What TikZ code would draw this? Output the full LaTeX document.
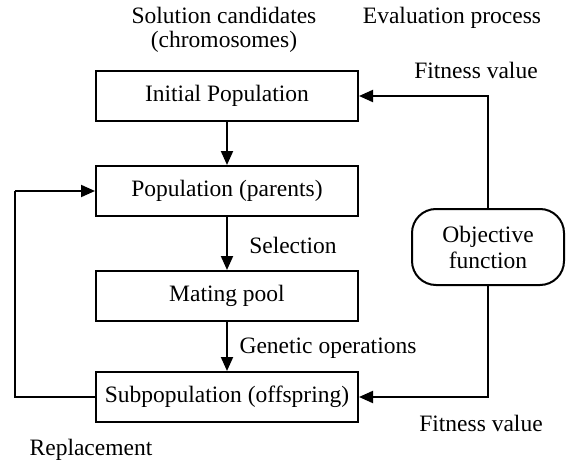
\documentclass[tikz,border=0pt]{standalone}
\usepackage{fontspec}
\setmainfont{Liberation Serif}
\usetikzlibrary{arrows.meta}
\begin{document}
\begin{tikzpicture}[x=1pt,y=-1pt,
  every node/.style={font=\fontsize{23.5}{26}\selectfont, inner sep=0pt},
  gabox/.style={draw, line width=2pt, minimum width=262pt, minimum height=50pt},
  objbox/.style={draw, line width=2pt, rounded corners=24pt, minimum width=152pt, minimum height=76pt, align=center},
  conn/.style={line width=2pt},
  arr/.style={line width=2pt, -{Triangle[length=14pt,width=12pt]}},
  lbl/.style={align=center}]
\useasboundingbox (0,0) rectangle (568,460);
\fill[white] (0,0) rectangle (568,460);

\node[gabox] (init) at (227,96) {Initial Population};
\node[gabox] (pop) at (227,191) {Population (parents)};
\node[gabox] (mate) at (227,296) {Mating pool};
\node[gabox] (sub) at (227,397) {Subpopulation (offspring)};
\node[objbox, font=\fontsize{23.5}{26}\selectfont] (obj) at (488,247) {Objective\\function};

\node[lbl, font=\fontsize{23.5}{24}\selectfont] (sol) at (224,30) {Solution candidates\\(chromosomes)};
\node (eval) at (452,18) {Evaluation process};
\node (fit1) at (476,70) {Fitness value};
\node (sel) at (293,245) {Selection};
\node (gen) at (328,348) {Genetic operations};
\node (fit2) at (481,423) {Fitness value};
\node (rep) at (91,450) {Replacement};

\draw[arr] (init) -- (pop);
\draw[arr] (pop) -- (mate);
\draw[arr] (mate) -- (sub);
\draw[arr] (obj.north) |- (init.east);
\draw[arr] (obj.south) |- (sub.east);
\coordinate (lb) at (15,397);
\coordinate (lt) at (15,191);
\draw[conn] (sub.west) -- (lb) -- (lt);
\draw[arr] (lt) -- (pop.west);
\end{tikzpicture}
\end{document}
